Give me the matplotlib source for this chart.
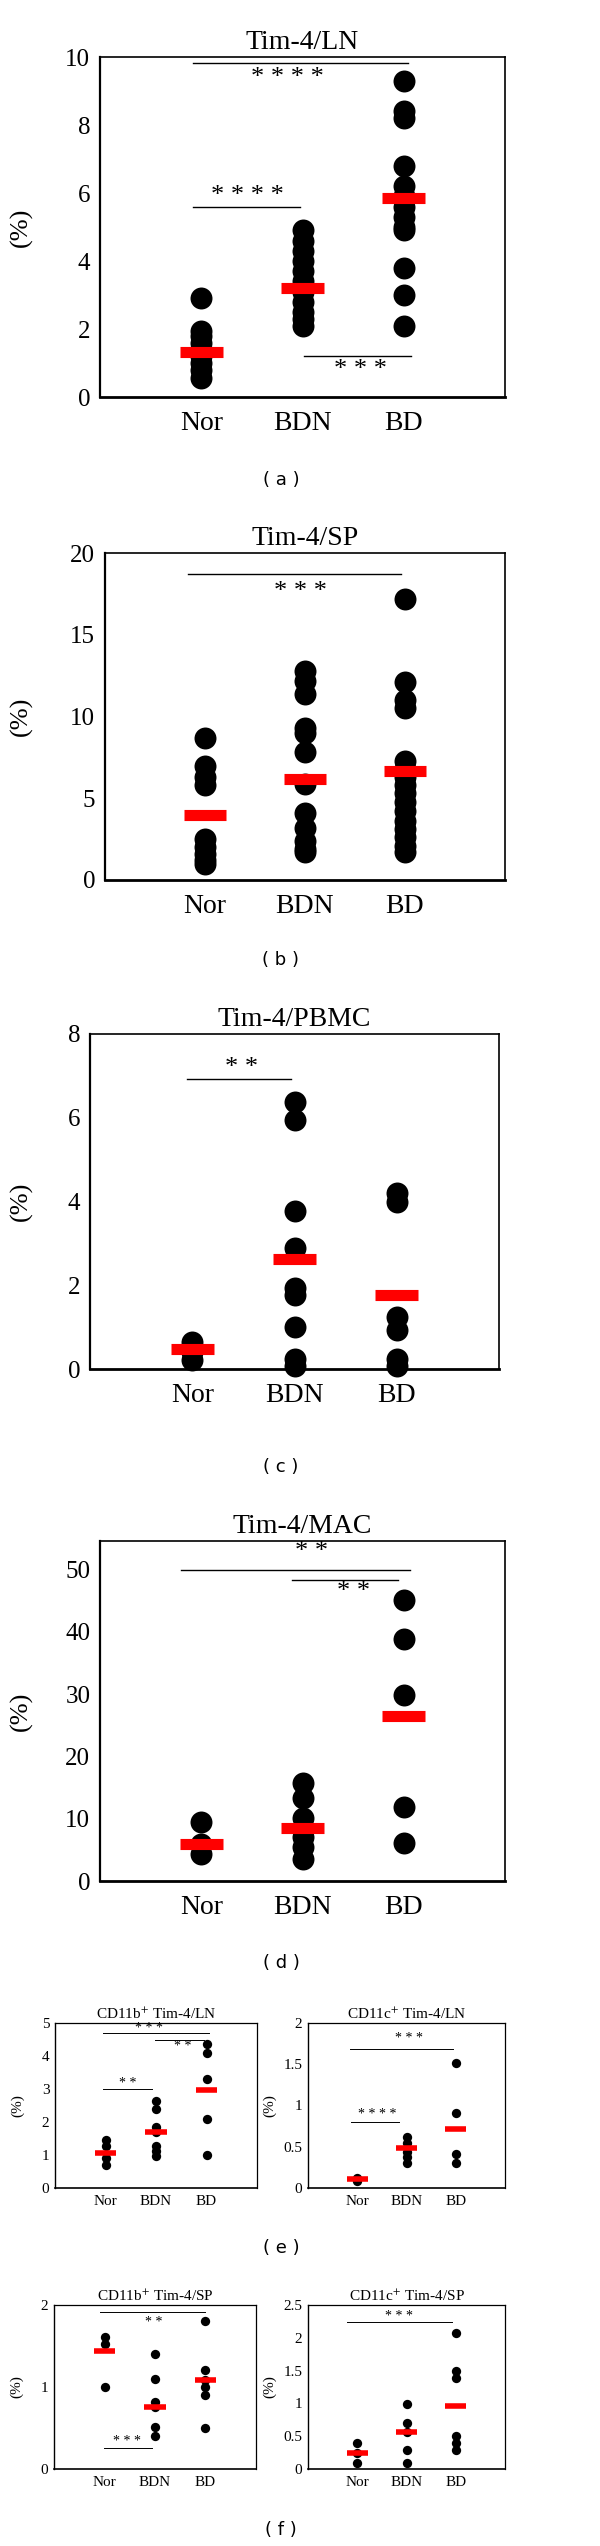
# Tim-4 expression panels (a)-(f)

import numpy as np
import matplotlib
matplotlib.use('Agg')
import matplotlib.pyplot as plt

plt.rcParams['font.family'] = ['Liberation Serif', 'DejaVu Serif']
plt.rcParams['mathtext.fontset'] = 'stix'

groups = ['Nor', 'BDN', 'BD']

# (a) Tim-4/LN
ln_nor = [2.9, 1.95, 1.8, 1.6, 1.4, 1.2, 1.0, 0.8, 0.55]
ln_bdn = [4.9, 4.6, 4.3, 4.0, 3.7, 3.4, 3.1, 2.8, 2.5, 2.3, 2.1]
ln_bd = [9.3, 8.4, 8.2, 6.8, 6.2, 5.9, 5.6, 5.3, 5.0, 4.9, 3.8, 3.0, 2.1]
ln_mean = [1.33, 3.22, 5.86]
ln_sig = [(0.92, 3.04, 9.82, '****', 1.85, 9.38),
          (0.92, 1.98, 5.6, '****', 1.46, 5.91),
          (2.01, 3.07, 1.21, '***', 2.57, 0.79)]

# (b) Tim-4/SP
sp_nor = [8.7, 7.0, 6.3, 5.8, 2.5, 2.0, 1.6, 1.2, 1.0]
sp_bdn = [12.8, 12.2, 11.4, 9.3, 9.0, 7.8, 5.9, 4.1, 3.2, 2.4, 1.9, 1.7]
sp_bd = [17.2, 12.1, 11.0, 10.5, 7.3, 6.8, 6.3, 5.8, 5.3, 4.8, 4.2, 3.6,
         3.1, 2.6, 2.1, 1.7]
sp_mean = [3.97, 6.15, 6.68]
sp_sig = [(0.83, 2.96, 18.7, '***', 1.95, 17.6)]

# (c) Tim-4/PBMC
pbmc_nor = [0.65, 0.4, 0.22]
pbmc_bdn = [6.38, 5.95, 3.78, 2.9, 1.93, 1.77, 1.0, 0.25, 0.06]
pbmc_bd = [4.2, 4.0, 1.25, 0.93, 0.25, 0.06]
pbmc_mean = [0.47, 2.63, 1.76]
pbmc_sig = [(0.95, 1.97, 6.92, '**', 1.48, 7.18)]

# (d) Tim-4/MAC
mac_nor = [9.5, 6.0, 4.4]
mac_bdn = [15.7, 13.3, 10.1, 8.2, 7.1, 5.5, 3.6]
mac_bd = [45.2, 38.8, 29.8, 11.9, 6.1]
mac_mean = [6.0, 8.56, 26.5]
mac_sig = [(0.80, 3.06, 49.9, '**', 2.09, 52.8),
           (1.90, 2.94, 48.3, '**', 2.50, 46.4)]

# (e) CD11b+ / CD11c+ Tim-4/LN
bln_nor = [1.44, 1.26, 0.91, 0.69]
bln_bdn = [2.65, 2.39, 1.84, 1.71, 1.26, 1.11, 0.98]
bln_bd = [4.35, 4.1, 3.3, 2.1, 1.01]
bln_mean = [1.07, 1.70, 2.97]
bln_sig = [(0.95, 3.04, 4.71, '***', 1.86, 4.83),
           (1.98, 2.96, 4.5, '**', 2.53, 4.3),
           (0.95, 1.92, 3.0, '**', 1.44, 3.17)]

cln_nor = [0.12, 0.08]
cln_bdn = [0.62, 0.54, 0.44, 0.38, 0.30]
cln_bd = [1.51, 0.91, 0.41, 0.30]
cln_mean = [0.11, 0.49, 0.72]
cln_sig = [(0.85, 2.95, 1.68, '***', 2.05, 1.81),
           (0.88, 1.85, 0.80, '****', 1.41, 0.885)]

# (f) CD11b+ / CD11c+ Tim-4/SP
bsp_nor = [1.61, 1.53, 1.0]
bsp_bdn = [1.40, 1.10, 0.82, 0.76, 0.51, 0.40]
bsp_bd = [1.80, 1.21, 1.09, 1.0, 0.9, 0.5]
bsp_mean = [1.44, 0.76, 1.08]
bsp_sig = [(0.91, 2.99, 1.92, '**', 1.98, 1.79),
           (0.99, 1.95, 0.26, '***', 1.44, 0.34)]

csp_nor = [0.40, 0.25, 0.09]
csp_bdn = [0.99, 0.70, 0.57, 0.29, 0.09]
csp_bd = [2.08, 1.49, 1.38, 0.50, 0.40, 0.29]
csp_mean = [0.25, 0.57, 0.96]
csp_sig = [(0.80, 2.93, 2.24, '***', 1.84, 2.32)]

W, H = 600, 2546
fig = plt.figure(figsize=(W / 100, H / 100), dpi=100)


def make_ax(x0, y0, x1, y1):
    # pixel box -> figure fraction
    return fig.add_axes([x0 / W, 1 - y1 / H, (x1 - x0) / W, (y1 - y0) / H])


def panel(ax, title, vals, means, sig, ylim, yticks, big=True, labx=-0.16):
    if big:
        ms, bar_lw, fs_t, fs_y, fs_x, fs_s, fs_l = 250, 8, 20, 18, 20, 19, 19
    else:
        ms, bar_lw, fs_t, fs_y, fs_x, fs_s, fs_l = 45, 4, 11, 11, 11, 10, 11
    for i, v in enumerate(vals):
        ax.scatter([i + 1] * len(v), v, s=ms, color='black', zorder=3,
                   clip_on=False, linewidths=0)
    ax.hlines(means, np.arange(1, 4) - 0.21, np.arange(1, 4) + 0.21,
              colors='#ff0000', lw=bar_lw, zorder=4)
    for x1, x2, y, lab, tx, ty in sig:
        ax.plot([x1, x2], [y, y], color='black', lw=1.0 if big else 0.7)
        ax.text(tx, ty, ' '.join(lab), ha='center', va='center',
                fontsize=fs_s)
    ax.set_xlim(0, 4)
    ax.set_ylim(*ylim)
    ax.set_xticks([1, 2, 3])
    ax.set_xticklabels(groups, fontsize=fs_x)
    ax.set_yticks(yticks)
    ax.set_yticklabels(['%g' % t for t in yticks], fontsize=fs_y)
    ax.tick_params(length=0, pad=7 if big else 4)
    ax.tick_params(axis='x', pad=10 if big else 5)
    ax.set_ylabel('(%)', fontsize=fs_l)
    ax.yaxis.set_label_coords(labx, 0.5)
    ax.set_title(title, fontsize=fs_t, pad=6 if big else 3)
    for s in ax.spines.values():
        s.set_linewidth(1.2 if big else 0.9)
    ax.spines['bottom'].set_linewidth(2.0 if big else 1.2)
    ax.spines['left'].set_linewidth(1.6 if big else 1.0)


ax = make_ax(100, 57, 505, 397)
panel(ax, 'Tim-4/LN', [ln_nor, ln_bdn, ln_bd], ln_mean, ln_sig,
      (0, 10), np.arange(0, 11, 2), labx=-0.165)

ax = make_ax(105, 553, 505, 880)
panel(ax, 'Tim-4/SP', [sp_nor, sp_bdn, sp_bd], sp_mean, sp_sig,
      (0, 20), np.arange(0, 21, 5), labx=-0.18)

ax = make_ax(90, 1034, 499, 1369)
panel(ax, 'Tim-4/PBMC', [pbmc_nor, pbmc_bdn, pbmc_bd], pbmc_mean, pbmc_sig,
      (0, 8), np.arange(0, 9, 2), labx=-0.14)

ax = make_ax(100, 1541, 505, 1881)
panel(ax, 'Tim-4/MAC', [mac_nor, mac_bdn, mac_bd], mac_mean, mac_sig,
      (0, 54.6), np.arange(0, 51, 10), labx=-0.165)

ax = make_ax(55, 2023, 257, 2188)
panel(ax, 'CD11b$^{+}$ Tim-4/LN', [bln_nor, bln_bdn, bln_bd], bln_mean,
      bln_sig, (0, 5), np.arange(0, 6, 1), big=False, labx=-0.15)

ax = make_ax(308, 2023, 505, 2188)
panel(ax, 'CD11c$^{+}$ Tim-4/LN', [cln_nor, cln_bdn, cln_bd], cln_mean,
      cln_sig, (0, 2), np.arange(0, 2.1, 0.5), big=False, labx=-0.16)

ax = make_ax(54, 2305, 256, 2469)
panel(ax, 'CD11b$^{+}$ Tim-4/SP', [bsp_nor, bsp_bdn, bsp_bd], bsp_mean,
      bsp_sig, (0, 2), np.arange(0, 2.1, 1), big=False, labx=-0.15)

ax = make_ax(308, 2305, 505, 2469)
panel(ax, 'CD11c$^{+}$ Tim-4/SP', [csp_nor, csp_bdn, csp_bd], csp_mean,
      csp_sig, (0, 2.5), np.arange(0, 2.6, 0.5), big=False, labx=-0.16)

# panel letters
for lab, y in zip('abcdef', [480, 960, 1467, 1963, 2248, 2530]):
    fig.text(281 / W, 1 - y / H, '( %s )' % lab, ha='center', va='center',
             fontsize=13, family='DejaVu Sans')

fig.savefig('out.png', dpi=100)
